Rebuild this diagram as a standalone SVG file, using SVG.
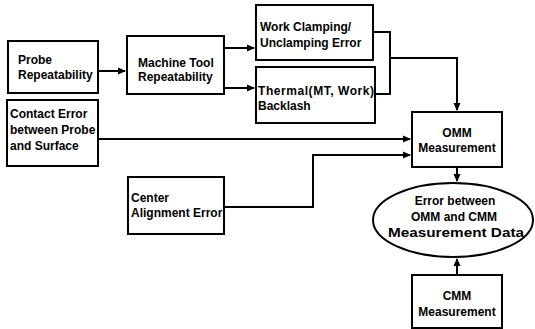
<svg xmlns="http://www.w3.org/2000/svg" width="535" height="329" viewBox="0 0 535 329">
<defs>
<marker id="ah" markerWidth="8" markerHeight="8" refX="7" refY="4" orient="auto" markerUnits="userSpaceOnUse">
<path d="M0,0.5 L8,4 L0,7.5 Z" fill="#000"/>
</marker>
<style>
rect,ellipse{fill:#fff;stroke:#000;stroke-width:2}
text{font-family:"Liberation Sans",Arial,sans-serif;font-size:12px;font-weight:bold;fill:#000}
.c{text-anchor:middle}
#edges path{fill:none;stroke:#000;stroke-width:2}
</style>
</defs>
<rect x="0" y="0" width="535" height="329" style="fill:#fff;stroke:none"/>
<g id="edges">
<path d="M98,71 H125" marker-end="url(#ah)"/>
<path d="M224,48 H254" marker-end="url(#ah)"/>
<path d="M224,88 H254" marker-end="url(#ah)"/>
<path d="M373,32 H390 V94 H375"/>
<path d="M390,58 H457 V110" marker-end="url(#ah)"/>
<path d="M98,139 H410" marker-end="url(#ah)"/>
<path d="M224,207 H313 V155 H410" marker-end="url(#ah)"/>
<path d="M457,167 V181" marker-end="url(#ah)"/>
<path d="M457,275 V259" marker-end="url(#ah)"/>
</g>
<g id="probe"><rect x="8" y="41" width="90" height="52"/><text x="18" y="64">Probe</text><text x="18" y="79">Repeatability</text></g>
<g id="machine"><rect x="127" y="36" width="97" height="58"/><text x="138" y="67">Machine Tool</text><text x="138" y="81">Repeatability</text></g>
<g id="clamping"><rect x="256" y="5" width="117" height="55"/><text x="260" y="31">Work Clamping/</text><text x="260" y="47">Unclamping Error</text></g>
<g id="thermal"><rect x="256" y="67" width="119" height="56"/><text x="258" y="95" textLength="116" lengthAdjust="spacing">Thermal(MT, Work)</text><text x="258" y="110">Backlash</text></g>
<g id="contact"><rect x="7" y="100" width="91" height="66"/><text x="10" y="118">Contact Error</text><text x="10" y="134">between Probe</text><text x="10" y="150">and Surface</text></g>
<g id="center"><rect x="128" y="177" width="96" height="57"/><text x="131" y="202">Center</text><text x="131" y="217">Alignment Error</text></g>
<g id="omm"><rect x="412" y="112" width="90" height="55"/><text class="c" x="457" y="137">OMM</text><text class="c" x="457" y="152">Measurement</text></g>
<g id="error"><ellipse cx="453" cy="220" rx="80" ry="37"/><text class="c" x="455" y="205">Error between</text><text class="c" x="454" y="221">OMM and CMM</text><text class="c" x="456" y="237" textLength="136" lengthAdjust="spacingAndGlyphs">Measurement Data</text></g>
<g id="cmm"><rect x="412" y="275" width="90" height="53"/><text class="c" x="457" y="300">CMM</text><text class="c" x="457" y="316">Measurement</text></g>
</svg>
